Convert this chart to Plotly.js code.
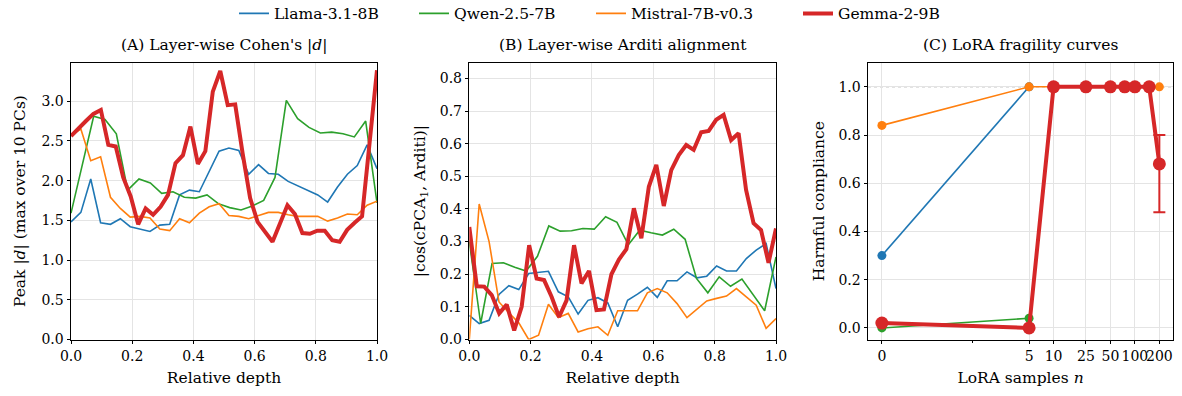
<!DOCTYPE html>
<html><head><meta charset="utf-8">
<script src="https://cdn.plot.ly/plotly-3.0.1.min.js"></script>
<style>html,body{margin:0;padding:0;background:#fff}#chart{width:1182px;height:396px}</style>
</head><body><div id="chart"></div>
<script>
const models = ["Llama-3.1-8B", "Qwen-2.5-7B", "Mistral-7B-v0.3", "Gemma-2-9B"];
const colors = ["#1f77b4", "#2ca02c", "#ff7f0e", "#d62728"];

// (A) Peak |d| per layer
const cohenLlama = [1.48, 1.60, 2.02, 1.47, 1.45, 1.52, 1.42, 1.39, 1.36, 1.44, 1.45, 1.82, 1.88, 1.86, 2.11, 2.37, 2.41, 2.38, 2.08, 2.20, 2.09, 2.08, 1.99, 1.93, 1.87, 1.82, 1.73, 1.92, 2.08, 2.19, 2.45, 2.15];
const cohenQwen = [1.59, 2.20, 2.81, 2.77, 2.59, 1.88, 2.02, 1.97, 1.84, 1.86, 1.79, 1.78, 1.82, 1.71, 1.66, 1.63, 1.68, 1.75, 2.04, 3.01, 2.78, 2.67, 2.60, 2.61, 2.59, 2.55, 2.75, 1.72];
const cohenMistral = [2.57, 2.65, 2.25, 2.30, 1.79, 1.65, 1.54, 1.55, 1.53, 1.39, 1.37, 1.52, 1.47, 1.59, 1.67, 1.71, 1.56, 1.55, 1.52, 1.56, 1.60, 1.60, 1.57, 1.55, 1.55, 1.55, 1.49, 1.53, 1.58, 1.57, 1.69, 1.74];
const cohenGemma = [2.56, 2.66, 2.75, 2.84, 2.89, 2.45, 2.43, 2.04, 1.80, 1.45, 1.65, 1.57, 1.67, 1.82, 2.22, 2.32, 2.68, 2.21, 2.37, 3.12, 3.38, 2.95, 2.96, 2.34, 1.78, 1.48, 1.36, 1.23, 1.46, 1.69, 1.58, 1.34, 1.33, 1.37, 1.37, 1.25, 1.23, 1.38, 1.47, 1.55, 2.47, 3.39];

// (B) |cos(cPCA1, Arditi)| per layer
const arditiLlama = [0.074, 0.049, 0.059, 0.138, 0.165, 0.153, 0.202, 0.205, 0.209, 0.146, 0.131, 0.078, 0.120, 0.128, 0.112, 0.039, 0.120, 0.139, 0.160, 0.129, 0.180, 0.180, 0.207, 0.189, 0.194, 0.225, 0.210, 0.210, 0.248, 0.274, 0.294, 0.156];
const arditiQwen = [0.300, 0.049, 0.233, 0.235, 0.221, 0.210, 0.255, 0.348, 0.332, 0.333, 0.340, 0.338, 0.376, 0.359, 0.290, 0.335, 0.327, 0.320, 0.338, 0.307, 0.187, 0.143, 0.192, 0.163, 0.185, 0.136, 0.088, 0.253];
const arditiMistral = [0.000, 0.415, 0.300, 0.115, 0.082, 0.051, 0.000, 0.013, 0.108, 0.067, 0.080, 0.023, 0.033, 0.039, 0.013, 0.088, 0.088, 0.088, 0.143, 0.156, 0.143, 0.110, 0.067, 0.092, 0.118, 0.126, 0.133, 0.156, 0.129, 0.105, 0.034, 0.064];
const arditiGemma = [0.345, 0.163, 0.162, 0.136, 0.080, 0.107, 0.028, 0.100, 0.289, 0.187, 0.182, 0.131, 0.069, 0.120, 0.289, 0.172, 0.210, 0.090, 0.092, 0.200, 0.245, 0.277, 0.402, 0.310, 0.468, 0.535, 0.409, 0.519, 0.565, 0.596, 0.581, 0.635, 0.639, 0.673, 0.688, 0.611, 0.632, 0.458, 0.356, 0.335, 0.235, 0.340];

// (C) LoRA fragility
const loraN = [0, 5, 10, 25, 50, 75, 100, 150, 200];
const fragLlamaN = [0, 5];
const fragLlama = [0.30, 1.00];
const fragQwenN = [0, 5];
const fragQwen = [0.00, 0.04];
const fragMistral = [0.84, 1.00, 1.00, 1.00, 1.00, 1.00, 1.00, 1.00, 1.00];
const fragGemma = [0.02, 0.00, 1.00, 1.00, 1.00, 1.00, 1.00, 1.00, 0.68];
const fragGemmaErrUp = [null, null, null, null, null, null, null, null, 0.12];
const fragGemmaErrDown = [null, null, null, null, null, null, null, null, 0.20];
const loraTickN = [0, 5, 10, 25, 50, 100, 200];
const loraTickText = ["0", "5", "10", "25", "50", "100", "200"];

// symmetric-log transform (linthresh 1, linscale 1, base 10)
function symlog(n) {
  const adj = 1 / (1 - 1 / 10);
  const a = Math.abs(n);
  const v = a <= 1 ? a * adj : adj + Math.log10(a);
  return n < 0 ? -v : v;
}
const depth = arr => arr.map((_, i) => i / (arr.length - 1));

const FONT = "DejaVu Serif, Liberation Serif, serif";
const thin = 1.6, thick = 4;
const traces = [];
const cohen = [cohenLlama, cohenQwen, cohenMistral, cohenGemma];
const ardit = [arditiLlama, arditiQwen, arditiMistral, arditiGemma];
const legendIds = ["legend", "legend2", "legend3", "legend4"];
for (let k = 0; k < 4; k++) {
  traces.push({x: depth(cohen[k]), y: cohen[k], type: "scatter", mode: "lines", name: models[k], legend: legendIds[k],
    line: {color: colors[k], width: k === 3 ? thick : thin}, xaxis: "x", yaxis: "y"});
}
for (let k = 0; k < 4; k++) {
  traces.push({x: depth(ardit[k]), y: ardit[k], type: "scatter", mode: "lines", name: models[k], showlegend: false,
    line: {color: colors[k], width: k === 3 ? thick : thin}, xaxis: "x2", yaxis: "y2"});
}
traces.push({x: fragLlamaN.map(symlog), y: fragLlama, type: "scatter", mode: "lines+markers", showlegend: false,
  line: {color: colors[0], width: thin}, marker: {color: colors[0], size: 9}, xaxis: "x3", yaxis: "y3", cliponaxis: false});
traces.push({x: fragQwenN.map(symlog), y: fragQwen, type: "scatter", mode: "lines+markers", showlegend: false,
  line: {color: colors[1], width: thin}, marker: {color: colors[1], size: 9}, xaxis: "x3", yaxis: "y3", cliponaxis: false});
traces.push({x: loraN.map(symlog), y: fragMistral, type: "scatter", mode: "lines+markers", showlegend: false,
  line: {color: colors[2], width: thin}, marker: {color: colors[2], size: 9}, xaxis: "x3", yaxis: "y3", cliponaxis: false});
traces.push({x: loraN.map(symlog), y: fragGemma, type: "scatter", mode: "lines+markers", showlegend: false,
  line: {color: colors[3], width: thick}, marker: {color: colors[3], size: 13}, xaxis: "x3", yaxis: "y3", cliponaxis: false,
  error_y: {type: "data", symmetric: false, array: fragGemmaErrUp, arrayminus: fragGemmaErrDown, color: colors[3], thickness: 2, width: 6}});

const W = 1182, H = 396;
const yDom = [1 - 339.5 / H, 1 - 62.7 / H];
const baseAxis = {
  showline: true, linecolor: "#000", linewidth: 1, mirror: true, ticks: "outside", ticklen: 3.5, tickwidth: 1, tickcolor: "#000",
  showgrid: true, gridcolor: "#e4e4e4", gridwidth: 1, zeroline: false, tickfont: {family: FONT, size: 14, color: "#000"},
  automargin: false, tickangle: 0
};
const titleFont = {family: FONT, size: 15.5, color: "#000"};
const legendFont = {family: FONT, size: 15.5, color: "#000"};
// legend entry left edges (pixels)
const legendX = [240, 420, 597, 804];
const mkLegend = px => ({orientation: "h", x: (px - 6) / W, xanchor: "left", y: 1.008, yanchor: "top", font: legendFont,
  bgcolor: "rgba(0,0,0,0)", borderwidth: 0});
const layout = {
  width: W, height: H, margin: {l: 0, r: 0, t: 0, b: 0, autoexpand: false}, paper_bgcolor: "#fff", plot_bgcolor: "#fff",
  font: {family: FONT, color: "#000"},
  showlegend: true,
  legend: mkLegend(legendX[0]), legend2: mkLegend(legendX[1]), legend3: mkLegend(legendX[2]), legend4: mkLegend(legendX[3]),
  xaxis: Object.assign({}, baseAxis, {domain: [71 / W, 377 / W], range: [0, 1], tickvals: [0, 0.2, 0.4, 0.6, 0.8, 1.0], tickformat: ".1f",
    title: {text: "Relative depth", font: titleFont, standoff: 9}, anchor: "y"}),
  yaxis: Object.assign({}, baseAxis, {domain: yDom, range: [0, 3.484], tickvals: [0, 0.5, 1, 1.5, 2, 2.5, 3], tickformat: ".1f",
    title: {text: "Peak |<i>d</i>| (max over 10 PCs)", font: titleFont, standoff: 12}, anchor: "x"}),
  xaxis2: Object.assign({}, baseAxis, {domain: [469.3 / W, 776 / W], range: [0, 1], tickvals: [0, 0.2, 0.4, 0.6, 0.8, 1.0], tickformat: ".1f",
    title: {text: "Relative depth", font: titleFont, standoff: 9}, anchor: "y2"}),
  yaxis2: Object.assign({}, baseAxis, {domain: yDom, range: [0, 0.848], tickvals: [0, 0.1, 0.2, 0.3, 0.4, 0.5, 0.6, 0.7, 0.8], tickformat: ".1f",
    title: {text: "|cos(cPCA<sub>1</sub>, Arditi)|", font: titleFont, standoff: 10}, anchor: "x2"}),
  xaxis3: Object.assign({}, baseAxis, {domain: [868 / W, 1173 / W], range: [-0.171, 3.58], tickvals: loraTickN.map(symlog), ticktext: loraTickText,
    minor: {tickvals: [symlog(1)], ticks: "outside", ticklen: 2, tickcolor: "#000", showgrid: false},
    title: {text: "LoRA samples <i>n</i>", font: titleFont, standoff: 9}, anchor: "y3"}),
  yaxis3: Object.assign({}, baseAxis, {domain: yDom, range: [-0.048, 1.1], tickvals: [0, 0.2, 0.4, 0.6, 0.8, 1.0], tickformat: ".1f",
    title: {text: "Harmful compliance", font: titleFont, standoff: 10}, anchor: "x3"}),
  shapes: [{type: "line", xref: "x3 domain", x0: 0, x1: 1, yref: "y3", y0: 1, y1: 1, line: {color: "#888", width: 0.8, dash: "dot"}, layer: "below"}],
  annotations: [
    {text: "(A) Layer-wise Cohen's |<i>d</i>|", xref: "paper", yref: "paper", x: (71 + 377) / 2 / W, xanchor: "center", y: yDom[1], yanchor: "bottom", yshift: 7, showarrow: false, font: titleFont},
    {text: "(B) Layer-wise Arditi alignment", xref: "paper", yref: "paper", x: (469.3 + 776) / 2 / W, xanchor: "center", y: yDom[1], yanchor: "bottom", yshift: 7, showarrow: false, font: titleFont},
    {text: "(C) LoRA fragility curves", xref: "paper", yref: "paper", x: (868 + 1173) / 2 / W, xanchor: "center", y: yDom[1], yanchor: "bottom", yshift: 7, showarrow: false, font: titleFont}
  ]
};
Plotly.newPlot("chart", traces, layout, {displayModeBar: false, staticPlot: true});
</script></body></html>
